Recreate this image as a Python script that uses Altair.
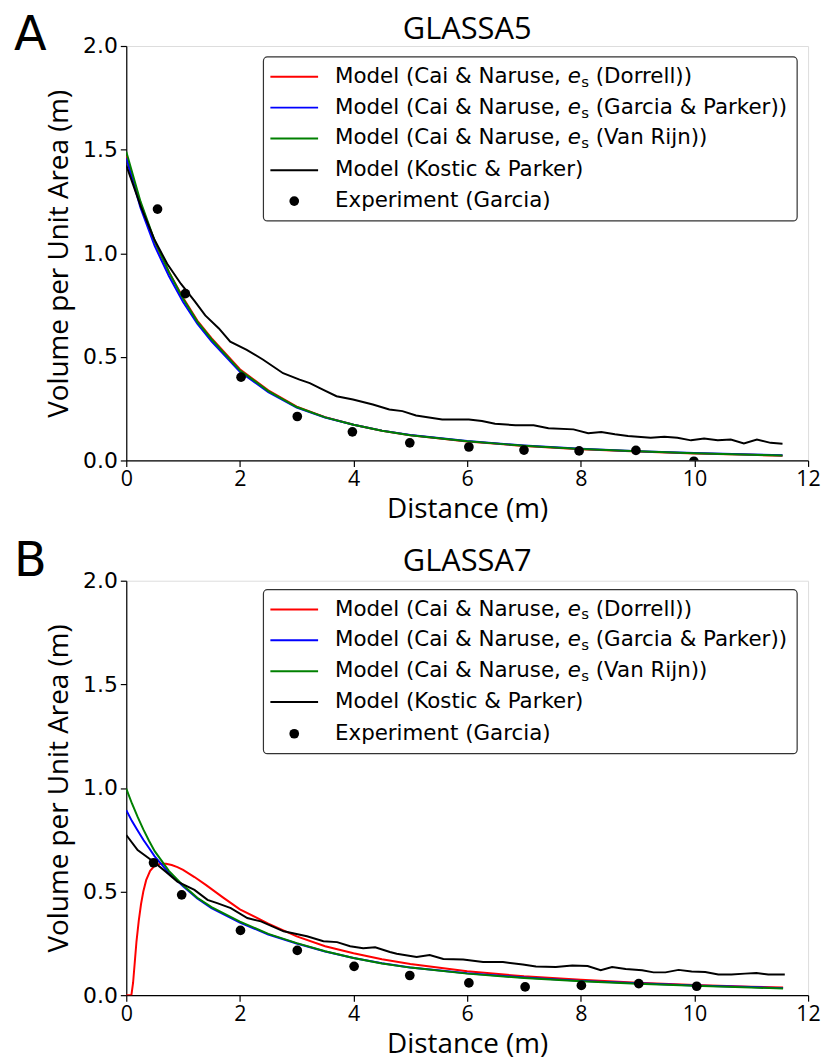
import altair as alt
import pandas as pd

# ---------------- Panel A : GLASSA5 ----------------
a_x = [0, 0.25, 0.5, 0.75, 1.0, 1.25, 1.5, 2.0, 2.5, 3.0, 3.5, 4.0, 4.5, 5.0, 6.0, 7.0, 8.0, 9.0, 10.0, 11.0, 11.55]
a_dorrell = [1.47, 1.24, 1.055, 0.91, 0.785, 0.675, 0.59, 0.44, 0.338, 0.26, 0.209, 0.172, 0.143, 0.122, 0.092, 0.070, 0.054, 0.043, 0.034, 0.027, 0.023]
a_garcia_parker = [1.46, 1.22, 1.035, 0.89, 0.765, 0.66, 0.575, 0.428, 0.33, 0.255, 0.207, 0.172, 0.144, 0.123, 0.094, 0.072, 0.056, 0.045, 0.036, 0.029, 0.025]
a_van_rijn = [1.49, 1.25, 1.06, 0.91, 0.78, 0.67, 0.585, 0.435, 0.335, 0.258, 0.208, 0.172, 0.143, 0.122, 0.093, 0.071, 0.055, 0.044, 0.035, 0.028, 0.024]
a_kostic_x = [0, 0.25, 0.49, 0.72, 0.96, 1.2, 1.39, 1.63, 1.83, 2.12, 2.41, 2.76, 3.05, 3.23, 3.46, 3.70, 3.99,
              4.34, 4.63, 4.86, 5.10, 5.56, 6.03, 6.26, 6.49, 6.85, 7.17, 7.43, 7.87, 8.13, 8.36, 8.60, 8.83,
              9.23, 9.47, 9.70, 9.94, 10.17, 10.41, 10.64, 10.87, 11.10, 11.34, 11.55]
a_kostic = [1.424, 1.23, 1.069, 0.949, 0.853, 0.77, 0.70, 0.637, 0.573, 0.534, 0.486, 0.421, 0.39, 0.373, 0.342, 0.31, 0.294,
            0.27, 0.246, 0.238, 0.217, 0.198, 0.198, 0.19, 0.177, 0.17, 0.17, 0.155, 0.15, 0.131, 0.137, 0.126, 0.118,
            0.11, 0.114, 0.11, 0.097, 0.106, 0.097, 0.101, 0.082, 0.101, 0.085, 0.081]
a_exp_x = [0.55, 1.04, 2.02, 3.01, 3.98, 4.99, 6.03, 7.0, 7.97, 8.97, 9.99]
a_exp = [1.213, 0.805, 0.402, 0.212, 0.138, 0.085, 0.065, 0.050, 0.046, 0.049, -0.004]

# ---------------- Panel B : GLASSA7 ----------------
b_x = [0, 0.1, 0.2, 0.3, 0.4, 0.5, 0.75, 1.0, 1.25, 1.5, 2.0, 2.5, 3.0, 3.5, 4.0, 4.5, 5.0, 6.0, 7.0, 8.0, 9.0, 10.0, 11.0, 11.56]
b_garcia_parker = [0.893, 0.84, 0.795, 0.75, 0.71, 0.67, 0.59, 0.525, 0.467, 0.42, 0.35, 0.293, 0.249, 0.211, 0.179, 0.154, 0.134, 0.106, 0.085, 0.069, 0.057, 0.047, 0.039, 0.034]
b_van_rijn = [0.997, 0.925, 0.86, 0.80, 0.745, 0.695, 0.60, 0.53, 0.47, 0.425, 0.355, 0.296, 0.251, 0.212, 0.179, 0.153, 0.133, 0.104, 0.083, 0.067, 0.055, 0.045, 0.037, 0.032]
b_dorrell_x = [0, 0.09, 0.12, 0.15, 0.18, 0.22, 0.26, 0.3, 0.35, 0.42, 0.5, 0.6, 0.7, 0.8, 0.9, 1.0, 1.2, 1.4, 1.7,
               2.0, 2.5, 3.0, 3.5, 4.0, 4.5, 5.0, 6.0, 7.0, 8.0, 9.0, 10.0, 11.0, 11.56]
b_dorrell = [0, 0, 0.06, 0.16, 0.26, 0.36, 0.44, 0.50, 0.555, 0.60, 0.625, 0.634, 0.634, 0.628, 0.618, 0.605, 0.57, 0.532, 0.472,
             0.414, 0.345, 0.284, 0.236, 0.202, 0.173, 0.150, 0.115, 0.091, 0.074, 0.060, 0.049, 0.041, 0.037]
b_kostic_x = [0, 0.2, 0.48, 0.7, 0.9, 1.2, 1.43, 1.6, 1.84, 2.13, 2.37, 2.77, 3.18, 3.47, 3.71, 3.94, 4.17, 4.38, 4.64,
              4.76, 5.11, 5.34, 5.58, 5.93, 6.28, 6.63, 6.98, 7.21, 7.56, 7.85, 8.12, 8.35, 8.55, 8.79, 9.08, 9.28,
              9.49, 9.72, 9.95, 10.19, 10.42, 10.65, 10.89, 11.09, 11.3, 11.59]
b_kostic = [0.773, 0.70, 0.644, 0.595, 0.548, 0.508, 0.46, 0.444, 0.42, 0.372, 0.356, 0.308, 0.284, 0.26, 0.256, 0.236, 0.227, 0.231, 0.208,
            0.20, 0.184, 0.194, 0.175, 0.172, 0.16, 0.16, 0.148, 0.138, 0.136, 0.143, 0.141, 0.12, 0.136, 0.126, 0.12, 0.11,
            0.11, 0.122, 0.114, 0.112, 0.10, 0.10, 0.104, 0.107, 0.10, 0.10]
b_exp_x = [0.48, 0.975, 2.01, 3.01, 4.01, 4.99, 6.03, 7.02, 8.01, 9.02, 10.04]
b_exp = [0.639, 0.484, 0.3125, 0.216, 0.139, 0.095, 0.059, 0.040, 0.047, 0.056, 0.043]

# ---------------- labels ----------------
x_ticks = [0, 2, 4, 6, 8, 10, 12]
y_ticks = [0, 0.5, 1.0, 1.5, 2.0]
es_models = ["(Dorrell))", "(Garcia & Parker))", "(Van Rijn))"]
other_labels = ["Model (Kostic & Parker)", "Experiment (Garcia)"]
line_colors = ["#ff0000", "#0000ff", "#008000", "#000000"]

W, H = 686, 417
TICK_FONT = "DejaVu Sans"
GEO_FONT = "Open Sans"

xaxis = alt.Axis(values=x_ticks, title="Distance (m)", grid=False, labelFlush=False,
                 labelFont=GEO_FONT, labelFontSize=21.5, labelColor="black", labelPadding=2,
                 tickColor="black", tickSize=6, tickWidth=1.2, domainColor="black", domainWidth=1.2,
                 titleFont=GEO_FONT, titleFontSize=28, titleFontWeight="normal", titleColor="black",
                 titlePadding=6)
yaxis = alt.Axis(values=y_ticks, format=".1f", title="Volume per Unit Area (m)", grid=False,
                 labelFlush=False, labelFont=TICK_FONT, labelFontSize=22, labelColor="black",
                 labelPadding=3, tickColor="black", tickSize=6, tickWidth=1.2, domainColor="black",
                 domainWidth=1.2, titleFont=GEO_FONT, titleFontSize=28, titleFontWeight="normal",
                 titleColor="black", titlePadding=9)

X = alt.X("x:Q", scale=alt.Scale(domain=[0, 12], nice=False, zero=False), axis=xaxis)
Y = alt.Y("y:Q", scale=alt.Scale(domain=[0, 2], nice=False, zero=False), axis=yaxis)

one = pd.DataFrame({"k": [0]})


def txt(x, y, s, size, font=TICK_FONT, align="left", baseline="middle", style="normal"):
    return alt.Chart(one).mark_text(align=align, baseline=baseline, font=font, fontSize=size,
                                    fontStyle=style, color="black").encode(
        x=alt.value(x), y=alt.value(y), text=alt.value(s))


def line_layer(xs, ys, color):
    df = pd.DataFrame({"x": xs, "y": ys})
    return alt.Chart(df).mark_line(color=color, strokeWidth=2, clip=True).encode(x=X, y=Y)


def legend_layers(rows):
    L = []
    bx0, bx1, by0, by1 = 138, 675, rows[0] - 20, rows[4] + 20
    L.append(alt.Chart(one).mark_rect(fill="white", stroke="#333333", strokeWidth=1.2,
                                      cornerRadius=4).encode(
        x=alt.value(bx0), x2=alt.value(bx1), y=alt.value(by0), y2=alt.value(by1)))
    for i, c in enumerate(line_colors):
        L.append(alt.Chart(one).mark_rule(color=c, strokeWidth=2).encode(
            x=alt.value(145), x2=alt.value(193), y=alt.value(rows[i])))
    L.append(alt.Chart(one).mark_circle(color="black", opacity=1, size=95).encode(
        x=alt.value(169), y=alt.value(rows[4])))
    tx = 210
    fs = 21.5
    e_x = tx + 234.2
    s_x = e_x + 13.6
    suf_x = s_x + 7.8 + 6.8
    for i, suf in enumerate(es_models):
        L.append(txt(tx, rows[i], "Model (Cai & Naruse,", fs))
        L.append(txt(e_x, rows[i], "e", fs, style="italic"))
        L.append(txt(s_x, rows[i] + 5, "s", 15))
        L.append(txt(suf_x, rows[i], suf, fs))
    for j, lab in enumerate(other_labels):
        L.append(txt(tx, rows[3 + j], lab, fs))
    return L


def panel(title, title_y, letter, letter_y, rows, series, exp_x, exp_y):
    layers = [line_layer(xs, ys, c) for (xs, ys, c) in series]
    exp_df = pd.DataFrame({"x": exp_x, "y": exp_y})
    layers.append(alt.Chart(exp_df).mark_circle(color="black", opacity=1, size=95, clip=True).encode(x=X, y=Y))
    layers += legend_layers(rows)
    layers.append(txt(-113, letter_y, letter, 48, baseline="alphabetic"))
    layers.append(txt(W / 2, title_y, title, 31, font=GEO_FONT, align="center", baseline="alphabetic"))
    return alt.layer(*layers).properties(width=W, height=H)


chart_a = panel("GLASSA5", -7, "A", 4, [31, 62, 93, 125, 156],
                [(a_x, a_dorrell, line_colors[0]), (a_x, a_garcia_parker, line_colors[1]),
                 (a_x, a_van_rijn, line_colors[2]), (a_kostic_x, a_kostic, line_colors[3])],
                a_exp_x, a_exp)
chart_b = panel("GLASSA7", -10, "B", -5, [29, 60, 91, 122, 154],
                [(b_dorrell_x, b_dorrell, line_colors[0]), (b_x, b_garcia_parker, line_colors[1]),
                 (b_x, b_van_rijn, line_colors[2]), (b_kostic_x, b_kostic, line_colors[3])],
                b_exp_x, b_exp)

chart = alt.vconcat(chart_a, chart_b, spacing=13).properties(
    padding={"left": 5, "top": 0, "right": 0, "bottom": 0}
).configure_view(stroke="black", strokeWidth=1.2).configure(background="white")

chart.save("out.html", embed_options={"renderer": "svg", "actions": False})
